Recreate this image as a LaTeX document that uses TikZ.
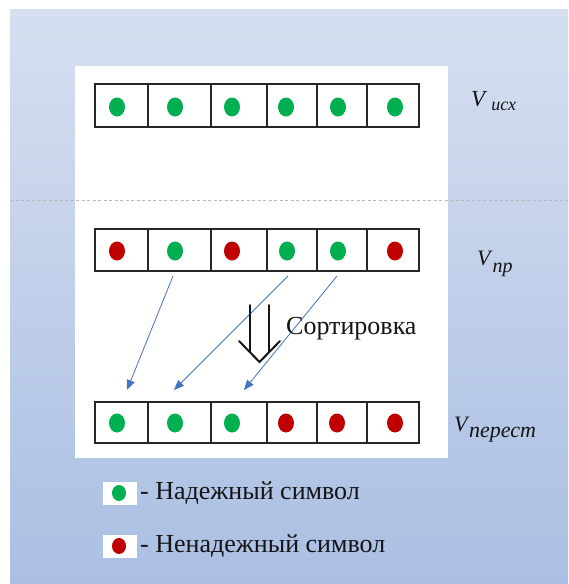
\documentclass[tikz,border=0pt]{standalone}
\usepackage{fontspec}
\setmainfont{Liberation Serif}
\usetikzlibrary{arrows.meta,shapes.geometric}
\definecolor{bgtop}{HTML}{D6DFF0}
\definecolor{bgbot}{HTML}{AABFE3}
\definecolor{gdot}{HTML}{00B050}
\definecolor{rdot}{HTML}{C00000}
\definecolor{ablue}{HTML}{4472C4}
\definecolor{txt}{HTML}{141414}
\definecolor{cellline}{HTML}{262626}
\newcommand{\vsub}[5]{{\fontsize{#1}{#1}\selectfont V}\hspace{#3}\raisebox{#4}{\fontsize{#2}{#2}\selectfont #5}}
\begin{document}
\begin{tikzpicture}[x=1pt,y=-1pt,
  cell/.style={draw=cellline, line width=1.4pt, inner sep=0pt, outer sep=0pt, fill=white},
  gd/.style={ellipse, fill=gdot, inner sep=0pt, minimum width=16pt, minimum height=19pt},
  rd/.style={ellipse, fill=rdot, inner sep=0pt, minimum width=16pt, minimum height=19pt},
  lgd/.style={ellipse, fill=gdot, inner sep=0pt, minimum width=14pt, minimum height=16pt},
  lrd/.style={ellipse, fill=rdot, inner sep=0pt, minimum width=14pt, minimum height=16pt},
  lbox/.style={fill=white, inner sep=0pt, minimum width=34pt, minimum height=23pt},
  sortarrow/.style={-{Triangle[length=10pt,width=8pt]}, draw=ablue, line width=0.8pt},
  lbl/.style={inner sep=0pt, anchor=base west, text=txt, font=\fontsize{26}{30}\selectfont},
  vlbl/.style={inner sep=0pt, anchor=base west, text=txt, font=\itshape},
  dbl/.style={draw=txt, line width=2pt, line cap=round, line join=miter}
]
\useasboundingbox (0,0) rectangle (568,584);
\fill[white] (0,0) rectangle (568,584);
\shade[top color=bgtop, bottom color=bgbot] (10,9) rectangle (568,584);
\fill[white] (75,66) rectangle (448,458);
\draw[gray!55, line width=0.6pt, dash pattern=on 3pt off 2.5pt] (10,200) -- (568,200);

% row 1
\node[cell, minimum width=53pt, minimum height=43pt] (r1c1) at (121.5,105.5) {};
\node[cell, minimum width=63pt, minimum height=43pt] (r1c2) at (179.5,105.5) {};
\node[cell, minimum width=56pt, minimum height=43pt] (r1c3) at (239,105.5) {};
\node[cell, minimum width=50pt, minimum height=43pt] (r1c4) at (292,105.5) {};
\node[cell, minimum width=50pt, minimum height=43pt] (r1c5) at (342,105.5) {};
\node[cell, minimum width=52pt, minimum height=43pt] (r1c6) at (393,105.5) {};
\node[gd] (d11) at (117,107) {};
\node[gd] (d12) at (175,107) {};
\node[gd] (d13) at (232,107) {};
\node[gd] (d14) at (286,107) {};
\node[gd] (d15) at (338,107) {};
\node[gd] (d16) at (395,107) {};

% row 2
\node[cell, minimum width=53pt, minimum height=42pt] (r2c1) at (121.5,250) {};
\node[cell, minimum width=63pt, minimum height=42pt] (r2c2) at (179.5,250) {};
\node[cell, minimum width=56pt, minimum height=42pt] (r2c3) at (239,250) {};
\node[cell, minimum width=50pt, minimum height=42pt] (r2c4) at (292,250) {};
\node[cell, minimum width=50pt, minimum height=42pt] (r2c5) at (342,250) {};
\node[cell, minimum width=52pt, minimum height=42pt] (r2c6) at (393,250) {};
\node[rd] (d21) at (117,251) {};
\node[gd] (d22) at (175,251) {};
\node[rd] (d23) at (232,251) {};
\node[gd] (d24) at (287,251) {};
\node[gd] (d25) at (338,251) {};
\node[rd] (d26) at (395,251) {};

% row 3
\node[cell, minimum width=53pt, minimum height=41pt] (r3c1) at (121.5,422.5) {};
\node[cell, minimum width=63pt, minimum height=41pt] (r3c2) at (179.5,422.5) {};
\node[cell, minimum width=56pt, minimum height=41pt] (r3c3) at (239,422.5) {};
\node[cell, minimum width=50pt, minimum height=41pt] (r3c4) at (292,422.5) {};
\node[cell, minimum width=50pt, minimum height=41pt] (r3c5) at (342,422.5) {};
\node[cell, minimum width=52pt, minimum height=41pt] (r3c6) at (393,422.5) {};
\node[gd] (d31) at (117,423) {};
\node[gd] (d32) at (175,423) {};
\node[gd] (d33) at (232,423) {};
\node[rd] (d34) at (286,423) {};
\node[rd] (d35) at (337,423) {};
\node[rd] (d36) at (395,423) {};

% moving arrows
\coordinate (s1) at (173,276);
\coordinate (s2) at (288,276);
\coordinate (s3) at (337,276);
\coordinate (e1) at (127,390);
\coordinate (e2) at (174,390);
\coordinate (e3) at (244,390);
\draw[sortarrow] (s1) -- (e1);
\draw[sortarrow] (s2) -- (e2);
\draw[sortarrow] (s3) -- (e3);

% double arrow
\coordinate (dl1) at (250,305);
\coordinate (dl2) at (250,352);
\coordinate (dr1) at (269,305);
\coordinate (dr2) at (269,352);
\coordinate (ca) at (239,341);
\coordinate (ct) at (259.5,362);
\coordinate (cb) at (280,341);
\draw[dbl] (dl1) -- (dl2);
\draw[dbl] (dr1) -- (dr2);
\draw[dbl] (ca) -- (ct) -- (cb);
\node[lbl] (sort) at (286,334) {Сортировка};

% labels
\node[vlbl] (v1) at (471,106) {\vsub{23}{18}{6pt}{-4pt}{исх}};
\node[vlbl] (v2) at (477,265) {\vsub{22}{20}{2pt}{-7pt}{пр}};
\node[vlbl] (v3) at (454,431) {\vsub{22}{22}{1.5pt}{-6pt}{перест}};

% legend
\node[lbox] (lb1) at (120,493.5) {};
\node[lgd] (ld1) at (119,493) {};
\node[lbl] (lt1) at (140,499) {- Надежный символ};
\node[lbox] (lb2) at (120,546) {};
\node[lrd] (ld2) at (119,546) {};
\node[lbl] (lt2) at (140,552) {- Ненадежный символ};
\end{tikzpicture}
\end{document}
